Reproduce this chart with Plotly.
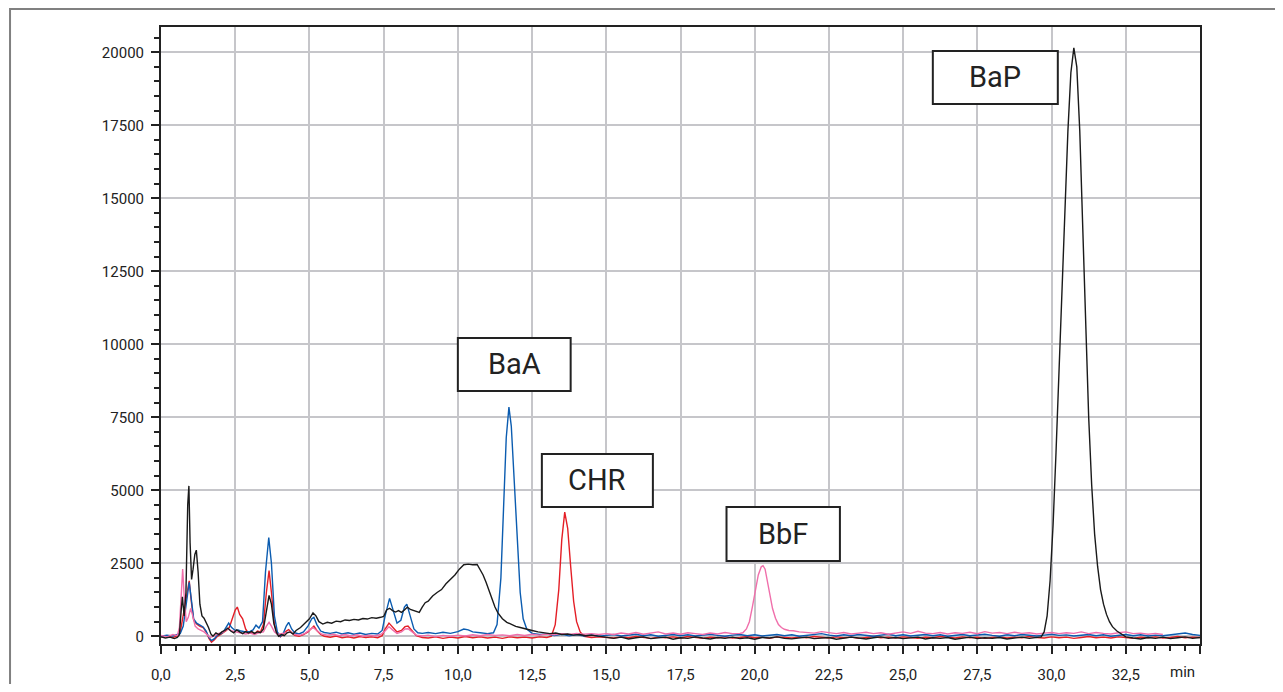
"""Chromatogramme HPLC (HAP) : BaA, CHR, BbF, BaP."""

import plotly.graph_objects as go

# Style
LINE_W = 1.4
GRID_COLOR = "#c6c6ca"
AXIS_COLOR = "#222222"
FONT = "Roboto"

COLOR_BLACK = "#1a1a1a"
COLOR_BLUE = "#0b5cb0"
COLOR_RED = "#e41e26"
COLOR_PINK = "#f06fab"

# Axes
X_TICKS = [0, 2.5, 5, 7.5, 10, 12.5, 15, 17.5, 20, 22.5, 25, 27.5, 30, 32.5, 35]
X_TICK_LABELS = ["0,0", "2,5", "5,0", "7,5", "10,0", "12,5", "15,0", "17,5",
                 "20,0", "22,5", "25,0", "27,5", "30,0", "32,5", ""]
Y_TICKS = [0, 2500, 5000, 7500, 10000, 12500, 15000, 17500, 20000]
Y_TICK_LABELS = ["0", "2500", "5000", "7500", "10000", "12500", "15000", "17500", "20000"]
X_RANGE = [0, 35]
Y_RANGE = [-264, 20866]

# Etiquettes des pics : (texte, x0, x1, y0, y1)
PEAK_LABELS = [
    ("BaA", 10.0, 13.8, 8400, 10217),
    ("CHR", 12.83, 16.57, 4430, 6244),
    ("BbF", 19.05, 22.87, 2580, 4430),
    ("BaP", 26.0, 30.21, 18231, 20046),
]

# Signaux (temps en min, intensite)
black = [
    (0.0, -20), (0.15, -60), (0.3, -30), (0.45, -80), (0.55, -40), (0.62, 50),
    (0.68, 900), (0.72, 1350), (0.78, 700), (0.84, 1500), (0.9, 4500), (0.94, 5150),
    (0.98, 3200), (1.03, 1950), (1.08, 2300), (1.14, 2800), (1.19, 2950), (1.25, 2200),
    (1.31, 1100), (1.38, 700), (1.45, 620), (1.52, 480), (1.6, 300), (1.68, 80),
    (1.75, 0), (1.85, 120), (1.95, 60), (2.05, 150), (2.15, 200), (2.25, 280),
    (2.35, 180), (2.45, 120), (2.55, 220), (2.65, 150), (2.75, 90), (2.85, 160),
    (2.95, 110), (3.05, 170), (3.15, 100), (3.25, 150), (3.35, 120), (3.45, 250),
    (3.55, 900), (3.64, 1400), (3.72, 1100), (3.8, 450), (3.88, 150), (3.96, 0),
    (4.05, 60), (4.15, 20), (4.25, 120), (4.35, 150), (4.45, 80), (4.55, 200),
    (4.7, 300), (4.85, 450), (5.0, 600), (5.12, 800), (5.22, 700), (5.32, 500),
    (5.45, 420), (5.6, 480), (5.75, 450), (5.9, 520), (6.05, 500), (6.2, 560),
    (6.35, 540), (6.5, 580), (6.65, 560), (6.8, 610), (6.95, 590), (7.1, 640),
    (7.25, 620), (7.4, 650), (7.5, 680), (7.6, 900), (7.7, 960), (7.8, 880),
    (7.9, 830), (8.0, 880), (8.1, 820), (8.2, 900), (8.3, 1000), (8.4, 920),
    (8.5, 880), (8.6, 860), (8.7, 820), (8.8, 1000), (8.9, 1150), (9.0, 1200),
    (9.15, 1380), (9.3, 1500), (9.45, 1600), (9.6, 1800), (9.75, 1950), (9.9, 2100),
    (10.05, 2300), (10.2, 2450), (10.35, 2470), (10.5, 2450), (10.65, 2460),
    (10.75, 2300), (10.85, 2100), (10.95, 1850), (11.05, 1550), (11.15, 1250),
    (11.25, 1000), (11.35, 800), (11.5, 600), (11.65, 480), (11.8, 400), (11.95, 340),
    (12.1, 300), (12.3, 240), (12.5, 200), (12.7, 150), (12.9, 120), (13.1, 90),
    (13.3, 110), (13.5, 60), (13.7, 80), (13.9, 40), (14.1, 60), (14.3, 20),
    (14.5, 40), (14.75, 0),
    (15.0, -40), (15.25, -70), (15.5, -30), (15.75, -90), (16.0, -50), (16.25, -20),
    (16.5, -80), (16.75, -60), (17.0, -30), (17.25, -100), (17.5, -50), (17.75, -70),
    (18.0, -20), (18.25, -60), (18.5, -90), (18.75, -40), (19.0, -70), (19.25, -30),
    (19.5, -80), (19.75, -50), (20.0, -100), (20.25, -40), (20.5, -60), (20.75, -20),
    (21.0, -70), (21.25, -90), (21.5, -50), (21.75, -30), (22.0, -80), (22.25, -60),
    (22.5, -40), (22.75, -100), (23.0, -70), (23.25, -30), (23.5, -60), (23.75, -90),
    (24.0, -50), (24.25, -20), (24.5, -70), (24.75, -40), (25.0, -80), (25.25, -60),
    (25.5, -30), (25.75, -90), (26.0, -50), (26.25, -70), (26.5, -40), (26.75, -100),
    (27.0, -60), (27.25, -30), (27.5, -80), (27.75, -50), (28.0, -70), (28.25, -40),
    (28.5, -90), (28.75, -60), (29.0, -30), (29.25, -70), (29.5, -50),
    (29.65, -20), (29.75, 150), (29.85, 700), (29.95, 1900), (30.05, 3800),
    (30.15, 6300), (30.25, 9000), (30.35, 12000), (30.45, 14800), (30.55, 17300),
    (30.65, 19300), (30.75, 20150), (30.85, 19500), (30.95, 17300), (31.05, 14000),
    (31.15, 10500), (31.25, 7500), (31.35, 5200), (31.45, 3500), (31.55, 2400),
    (31.65, 1600), (31.75, 1100), (31.85, 750), (31.95, 500), (32.05, 330),
    (32.2, 180), (32.35, 70), (32.5, -20),
    (32.75, -60), (33.0, -90), (33.25, -40), (33.5, -70), (33.75, -30), (34.0, -80),
    (34.25, -50), (34.5, -20), (34.75, -70), (35.0, -40),
]

blue = [
    (0.0, 0), (0.2, 40), (0.4, 10), (0.55, 50), (0.65, 100), (0.75, 350),
    (0.85, 1200), (0.95, 1850), (1.03, 1200), (1.1, 600), (1.2, 450), (1.3, 380),
    (1.42, 320), (1.52, 180), (1.62, -50), (1.7, -150), (1.8, -80), (1.9, 40),
    (2.0, 80), (2.1, 150), (2.2, 300), (2.28, 450), (2.38, 300), (2.5, 200),
    (2.6, 220), (2.7, 180), (2.85, 150), (3.0, 170), (3.1, 220), (3.2, 380),
    (3.3, 280), (3.42, 500), (3.52, 2200), (3.63, 3380), (3.72, 2500), (3.82, 700),
    (3.92, 150), (4.02, 0), (4.12, 100), (4.22, 350), (4.3, 480), (4.4, 250),
    (4.5, 120), (4.65, 80), (4.8, 150), (4.95, 350), (5.08, 600), (5.15, 650),
    (5.25, 400), (5.38, 180), (5.5, 130), (5.7, 100), (5.9, 140), (6.1, 80),
    (6.3, 120), (6.5, 70), (6.7, 110), (6.9, 60), (7.1, 100), (7.3, 80),
    (7.45, 200), (7.55, 700), (7.7, 1300), (7.82, 900), (7.95, 450), (8.08, 550),
    (8.2, 1000), (8.28, 1100), (8.4, 700), (8.52, 250), (8.65, 120), (8.8, 100),
    (9.0, 130), (9.25, 90), (9.5, 140), (9.75, 100), (10.0, 160), (10.2, 250),
    (10.35, 220), (10.5, 150), (10.75, 120), (11.0, 90), (11.2, 120), (11.32, 400),
    (11.45, 2000), (11.55, 4800), (11.63, 6800), (11.72, 7850), (11.8, 7200),
    (11.9, 5300), (12.0, 3200), (12.1, 1500), (12.2, 600), (12.32, 250), (12.5, 100),
    (12.75, 60), (13.0, 80), (13.25, 30), (13.5, 70), (13.75, 20), (14.0, 60),
    (14.25, 10), (14.5, 50), (14.75, 0),
    (15.0, 30), (15.25, 60), (15.5, 10), (15.75, 40), (16.0, 70), (16.25, 20),
    (16.5, 50), (16.75, 0), (17.0, 40), (17.25, 60), (17.5, 20), (17.75, 50),
    (18.0, 10), (18.25, 40), (18.5, 70), (18.75, 30), (19.0, 0), (19.25, 40),
    (19.5, 60), (19.75, 20), (20.0, 50), (20.25, 10), (20.5, 30), (20.75, 60),
    (21.0, 20), (21.25, 50), (21.5, 0), (21.75, 30), (22.0, 60), (22.25, 90),
    (22.5, 40), (22.75, 10), (23.0, 50), (23.25, 20), (23.5, 60), (23.75, 30),
    (24.0, 0), (24.25, 40), (24.5, 70), (24.75, 20), (25.0, 50), (25.25, 10),
    (25.5, 40), (25.75, 60), (26.0, 20), (26.25, 50), (26.5, 0), (26.75, 30),
    (27.0, 60), (27.25, 20), (27.5, 40), (27.75, 70), (28.0, 30), (28.25, 0),
    (28.5, 50), (28.75, 20), (29.0, 60), (29.25, 30), (29.5, 10), (29.75, 40),
    (30.0, 70), (30.25, 30), (30.5, 50), (30.75, 10), (31.0, 40), (31.25, 60),
    (31.5, 20), (31.75, 50), (32.0, 0), (32.25, 40), (32.5, 60), (32.75, 20),
    (33.0, 50), (33.25, 10), (33.5, 40), (33.75, 20), (34.0, 50), (34.25, 80),
    (34.5, 110), (34.75, 60), (35.0, 30),
]

red = [
    (0.0, -30), (0.2, 20), (0.4, -40), (0.55, 10), (0.65, 150), (0.75, 700),
    (0.85, 1300), (0.95, 1900), (1.02, 1200), (1.1, 550), (1.2, 420), (1.3, 350),
    (1.42, 300), (1.52, 150), (1.62, -80), (1.7, -200), (1.8, -120), (1.9, 0),
    (2.0, 60), (2.1, 120), (2.2, 200), (2.3, 300), (2.4, 600), (2.5, 900),
    (2.57, 1000), (2.65, 750), (2.75, 600), (2.85, 250), (2.95, 100), (3.05, 120),
    (3.15, 90), (3.25, 180), (3.35, 150), (3.45, 400), (3.55, 1500), (3.64, 2250),
    (3.72, 1500), (3.82, 400), (3.92, 80), (4.02, -20), (4.12, 60), (4.22, 180),
    (4.3, 230), (4.4, 120), (4.5, 30), (4.65, 0), (4.8, 60), (4.95, 150),
    (5.08, 300), (5.15, 350), (5.25, 200), (5.38, 60), (5.5, 0), (5.7, -30),
    (5.9, 10), (6.1, -50), (6.3, -20), (6.5, -60), (6.7, -10), (6.9, -40),
    (7.1, -20), (7.3, -50), (7.45, 20), (7.55, 250), (7.68, 450), (7.8, 300),
    (7.95, 150), (8.1, 200), (8.22, 330), (8.32, 350), (8.45, 200), (8.6, 20),
    (8.8, -40), (9.0, -60), (9.25, -20), (9.5, -70), (9.75, -30), (10.0, -60),
    (10.25, -10), (10.5, -50), (10.75, -20), (11.0, -60), (11.25, -30), (11.5, -70),
    (11.75, -20), (12.0, -50), (12.25, -30), (12.5, -60), (12.75, -20), (13.0, -40),
    (13.15, 0), (13.28, 400), (13.4, 1600), (13.5, 3300), (13.6, 4250), (13.7, 3700),
    (13.8, 2400), (13.9, 1200), (14.0, 500), (14.12, 150), (14.25, 0), (14.5, -40),
    (14.75, -20),
    (15.0, -30), (15.25, -60), (15.5, -20), (15.75, -50), (16.0, -10), (16.25, -40),
    (16.5, -70), (16.75, -30), (17.0, -50), (17.25, -20), (17.5, -60), (17.75, -10),
    (18.0, -40), (18.25, -70), (18.5, -30), (18.75, -50), (19.0, -20), (19.25, -60),
    (19.5, -40), (19.75, -10), (20.0, -50), (20.25, -30), (20.5, -70), (20.75, -20),
    (21.0, -40), (21.25, -60), (21.5, -30), (21.75, -50), (22.0, -10), (22.25, -40),
    (22.5, -60), (22.75, -20), (23.0, -50), (23.25, -30), (23.5, -70), (23.75, -40),
    (24.0, -10), (24.25, -50), (24.5, -30), (24.75, -60), (25.0, -20), (25.25, -40),
    (25.5, -70), (25.75, -30), (26.0, -50), (26.25, -10), (26.5, -40), (26.75, -60),
    (27.0, -20), (27.25, -50), (27.5, -30), (27.75, -70), (28.0, -40), (28.25, -20),
    (28.5, -60), (28.75, -30), (29.0, -50), (29.25, -10), (29.5, -40), (29.75, -60),
    (30.0, -20), (30.25, -50), (30.5, -30), (30.75, -70), (31.0, -40), (31.25, -10),
    (31.5, -50), (31.75, -30), (32.0, -60), (32.25, -20), (32.5, -40), (32.75, -70),
    (33.0, -30), (33.25, -50), (33.5, -20), (33.75, -60), (34.0, -40), (34.25, -10),
    (34.5, -50), (34.75, -30), (35.0, -40),
]

pink = [
    (0.0, 30), (0.2, -20), (0.4, 60), (0.55, 20), (0.62, 300), (0.68, 1500),
    (0.73, 2300), (0.78, 1400), (0.85, 500), (0.92, 650), (1.0, 950), (1.07, 700),
    (1.15, 350), (1.25, 250), (1.35, 200), (1.45, 150), (1.55, 60), (1.65, -40),
    (1.75, 0), (1.85, 60), (1.95, 100), (2.1, 150), (2.25, 250), (2.4, 180),
    (2.55, 150), (2.7, 120), (2.85, 80), (3.0, 110), (3.15, 60), (3.3, 120),
    (3.45, 150), (3.55, 350), (3.64, 480), (3.72, 350), (3.82, 150), (3.92, 60),
    (4.05, 80), (4.2, 120), (4.35, 150), (4.5, 60), (4.7, 40), (4.85, 100),
    (5.0, 200), (5.12, 300), (5.25, 200), (5.4, 80), (5.6, 40), (5.8, 70),
    (6.0, 20), (6.2, 60), (6.4, 10), (6.6, 50), (6.8, 0), (7.0, 40),
    (7.2, 10), (7.4, 60), (7.55, 180), (7.68, 330), (7.8, 220), (7.95, 100),
    (8.1, 150), (8.22, 250), (8.32, 260), (8.45, 150), (8.6, 40), (8.8, 10),
    (9.0, 40), (9.25, -10), (9.5, 30), (9.75, 0), (10.0, 40), (10.25, 10),
    (10.5, 50), (10.75, 20), (11.0, 60), (11.25, 30), (11.5, 50), (11.75, 20),
    (12.0, 60), (12.25, 30), (12.5, 70), (12.75, 40), (13.0, 80), (13.25, 50),
    (13.5, 90), (13.75, 60), (14.0, 100), (14.25, 70), (14.5, 90), (14.75, 60),
    (15.0, 90), (15.25, 60), (15.5, 110), (15.75, 80), (16.0, 130), (16.25, 70),
    (16.5, 100), (16.75, 150), (17.0, 80), (17.25, 110), (17.5, 70), (17.75, 120),
    (18.0, 90), (18.25, 60), (18.5, 110), (18.75, 80), (19.0, 130), (19.25, 90),
    (19.5, 100),
    (19.6, 120), (19.72, 250), (19.82, 500), (19.92, 1000), (20.02, 1600),
    (20.12, 2100), (20.22, 2380), (20.28, 2420), (20.35, 2300), (20.43, 1900),
    (20.52, 1350), (20.6, 950), (20.7, 620), (20.8, 400), (20.9, 300), (21.0, 240),
    (21.15, 200), (21.3, 190), (21.5, 150), (21.75, 120), (22.0, 110),
    (22.25, 160), (22.5, 120), (22.75, 90), (23.0, 130), (23.25, 80), (23.5, 110),
    (23.75, 140), (24.0, 90), (24.25, 120), (24.5, 70), (24.75, 110), (25.0, 150),
    (25.25, 100), (25.5, 170), (25.75, 110), (26.0, 90), (26.25, 130), (26.5, 80),
    (26.75, 120), (27.0, 100), (27.25, 140), (27.5, 90), (27.75, 160), (28.0, 110),
    (28.25, 130), (28.5, 90), (28.75, 140), (29.0, 100), (29.25, 120), (29.5, 80),
    (29.75, 110), (30.0, 130), (30.25, 90), (30.5, 120), (30.75, 100), (31.0, 150),
    (31.25, 90), (31.5, 130), (31.75, 100), (32.0, 80), (32.25, 120), (32.5, 150),
    (32.75, 90), (33.0, 110), (33.25, 70), (33.5, 100), (33.75, 60),
]

# ordre de trace : le noir passe au-dessus
SERIES = [
    ("rouge", red, COLOR_RED),
    ("bleu", blue, COLOR_BLUE),
    ("rose", pink, COLOR_PINK),
    ("noir", black, COLOR_BLACK),
]


def build_figure() -> go.Figure:
    fig = go.Figure()

    for name, points, color in SERIES:
        fig.add_trace(
            go.Scatter(
                x=[p[0] for p in points],
                y=[p[1] for p in points],
                mode="lines",
                name=name,
                line=dict(color=color, width=LINE_W),
                showlegend=False,
            )
        )

    for text, x0, x1, y0, y1 in PEAK_LABELS:
        fig.add_shape(
            type="rect", xref="x", yref="y", x0=x0, x1=x1, y0=y0, y1=y1,
            line=dict(color=AXIS_COLOR, width=2), fillcolor="white", layer="above",
        )
        fig.add_annotation(
            x=(x0 + x1) / 2, y=(y0 + y1) / 2, xref="x", yref="y",
            text=text, showarrow=False,
            font=dict(family=FONT, size=29, color=AXIS_COLOR),
        )

    # cadre exterieur gris
    fig.add_shape(
        type="rect", xref="paper", yref="paper",
        x0=-0.1453, x1=1.2, y0=-0.2, y1=1.0292,
        line=dict(color="#808080", width=2), layer="below",
    )

    fig.add_annotation(
        x=1, y=-0.0454, xref="paper", yref="paper", text="min",
        showarrow=False, xanchor="right", yanchor="middle", xshift=-3,
        font=dict(family=FONT, size=15, color=AXIS_COLOR),
    )

    # la page html ajoute 8 px de marge autour du graphique
    fig.update_layout(
        width=1267,
        height=676,
        margin=dict(l=153, r=75, t=19, b=40),
        paper_bgcolor="white",
        plot_bgcolor="white",
        font=dict(family=FONT, size=15, color=AXIS_COLOR),
    )

    fig.update_xaxes(
        range=X_RANGE,
        tickvals=X_TICKS,
        ticktext=X_TICK_LABELS,
        ticks="outside",
        ticklen=8,
        tickwidth=2,
        tickcolor=AXIS_COLOR,
        ticklabelstandoff=8,
        automargin=False,
        showline=True,
        linecolor=AXIS_COLOR,
        linewidth=2,
        mirror=True,
        showgrid=True,
        gridcolor=GRID_COLOR,
        gridwidth=2,
        zeroline=False,
        minor=dict(tick0=0, dtick=0.5, ticks="outside", ticklen=5,
                   tickwidth=2, tickcolor=AXIS_COLOR, showgrid=False),
    )
    fig.update_yaxes(
        range=Y_RANGE,
        tickvals=Y_TICKS,
        ticktext=Y_TICK_LABELS,
        ticks="outside",
        ticklen=8,
        tickwidth=2,
        tickcolor=AXIS_COLOR,
        ticklabelstandoff=4,
        automargin=False,
        showline=True,
        linecolor=AXIS_COLOR,
        linewidth=2,
        mirror=True,
        showgrid=True,
        gridcolor=GRID_COLOR,
        gridwidth=2,
        zeroline=False,
        minor=dict(tick0=0, dtick=500, ticks="outside", ticklen=5,
                   tickwidth=2, tickcolor=AXIS_COLOR, showgrid=False),
    )
    return fig


fig = build_figure()
fig.write_html("out.html")
